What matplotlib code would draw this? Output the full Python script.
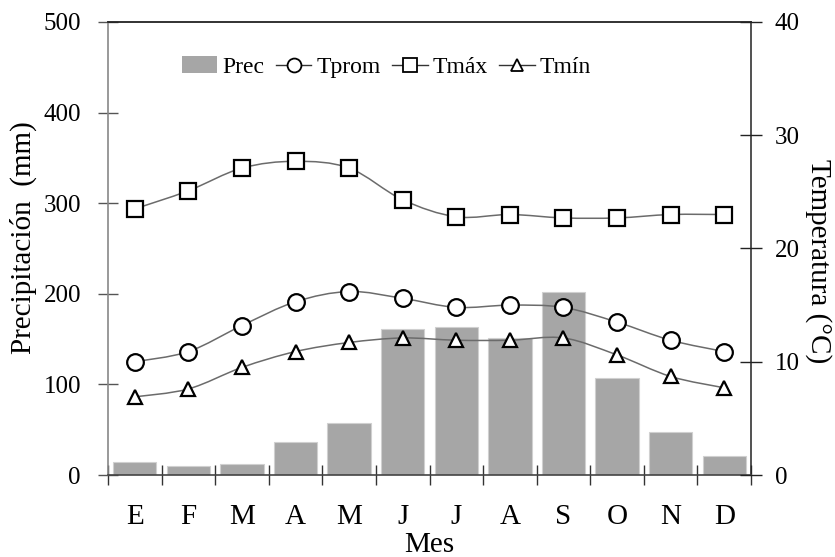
import numpy as np
import matplotlib.pyplot as plt
from matplotlib.path import Path
from matplotlib.patches import PathPatch, Patch
from matplotlib.lines import Line2D

plt.rcParams['font.family'] = ['Liberation Serif', 'DejaVu Serif']

meses = ['E', 'F', 'M', 'A', 'M', 'J', 'J', 'A', 'S', 'O', 'N', 'D']
prec = [14, 10, 12, 36, 57, 161, 163, 151, 202, 107, 48, 21]
tprom = [10.0, 10.9, 13.2, 15.3, 16.2, 15.6, 14.8, 15.0, 14.8, 13.5, 11.9, 10.9]
tmax = [23.5, 25.1, 27.1, 27.7, 27.1, 24.3, 22.8, 23.0, 22.7, 22.7, 23.0, 23.0]
tmin = [6.9, 7.6, 9.5, 10.9, 11.7, 12.1, 11.9, 11.9, 12.1, 10.6, 8.7, 7.7]

line_col = '#6b6b6b'
bar_col = '#a6a6a6'


def smooth_path(x, y):
    # curva suavizada tipo Excel (Catmull-Rom -> Bezier cubica)
    p = np.column_stack([x, y]).astype(float)
    n = len(p)
    verts = [p[0]]
    codes = [Path.MOVETO]
    for i in range(n - 1):
        p0 = p[i - 1] if i > 0 else p[i]
        p3 = p[i + 2] if i + 2 < n else p[i + 1]
        c1 = p[i] + (p[i + 1] - p0) / 6
        c2 = p[i + 1] - (p3 - p[i]) / 6
        verts += [c1, c2, p[i + 1]]
        codes += [Path.CURVE4] * 3
    return Path(verts, codes)


x = np.arange(len(meses))

fig = plt.figure(figsize=(8.35, 5.57), dpi=100)
ax = fig.add_axes([108 / 835, 1 - 475 / 557, (751 - 108) / 835, (475 - 22) / 557])
ax2 = ax.twinx()

ax.bar(x, prec, width=0.81, color=bar_col, edgecolor='#d0d0d0', linewidth=0.8, zorder=1)
ax.set_xlim(-0.5, 11.5)
ax.set_ylim(0, 500)
ax.set_yticks(range(0, 501, 100))

ax2.set_ylim(0, 40)
ax2.set_yticks(range(0, 41, 10))

series = [(tprom, 'o', 12), (tmax, 's', 12), (tmin, '^', 10)]
for vals, mk, ms in series:
    ax2.add_patch(PathPatch(smooth_path(x, vals), facecolor='none', edgecolor=line_col,
                            linewidth=1.1, zorder=2))
    ax2.plot(x, vals, linestyle='none', marker=mk, markersize=ms, markerfacecolor='white',
             markeredgecolor='black', markeredgewidth=1.6, zorder=3)

# eje x: marcas entre meses, etiquetas al centro
ax.set_xticks(np.arange(-0.5, 12, 1))
ax.set_xticklabels([])
ax.set_xticks(x, minor=True)
ax.set_xticklabels(meses, minor=True, fontsize=21)
ax.tick_params(axis='x', which='major', direction='inout', length=14, width=1, color='#333333')
ax.tick_params(axis='x', which='minor', length=0, pad=21)
ax.set_xlabel('Mes', fontsize=21, labelpad=1)

ax.tick_params(axis='y', direction='inout', length=15, width=1, color='#555555', labelsize=18, pad=12)
ax2.tick_params(axis='y', direction='inout', length=16, width=1, color='#222222', labelsize=18, pad=9)

fig.text(23 / 835, 1 - 238 / 557, 'Precipitación  (mm)', fontsize=21, rotation=90,
         ha='center', va='center')
fig.text(818 / 835, 1 - 261 / 557, 'Temperatura (°C)', fontsize=21, rotation=270,
         ha='center', va='center')

for s in ['top', 'right', 'left', 'bottom']:
    ax2.spines[s].set_visible(False)
ax.spines['left'].set_color('#888888')
ax.spines['left'].set_linewidth(1.2)
ax.spines['bottom'].set_color('#444444')
ax.spines['bottom'].set_linewidth(1.2)
ax.spines['top'].set_color('#222222')
ax.spines['top'].set_linewidth(1.3)
ax.spines['right'].set_color('#222222')
ax.spines['right'].set_linewidth(1.1)

handles = [
    Patch(facecolor=bar_col, edgecolor='none'),
    Line2D([], [], color='#333333', lw=1, marker='o', markersize=10, markerfacecolor='white',
           markeredgecolor='black', markeredgewidth=1.3),
    Line2D([], [], color='#333333', lw=1, marker='s', markersize=10, markerfacecolor='white',
           markeredgecolor='black', markeredgewidth=1.3),
    Line2D([], [], color='#333333', lw=1, marker='^', markersize=8, markerfacecolor='white',
           markeredgecolor='black', markeredgewidth=1.3),
]
fig.legend(handles, ['Prec', 'Tprom', 'Tmáx', 'Tmín'], loc='center left',
           bbox_to_anchor=(182 / 835, 1 - 67 / 557), ncol=4, frameon=False, fontsize=17,
           handlelength=1.5, handletextpad=0.2, columnspacing=0.5, borderpad=0, borderaxespad=0)

fig.savefig('out.png', dpi=100)
